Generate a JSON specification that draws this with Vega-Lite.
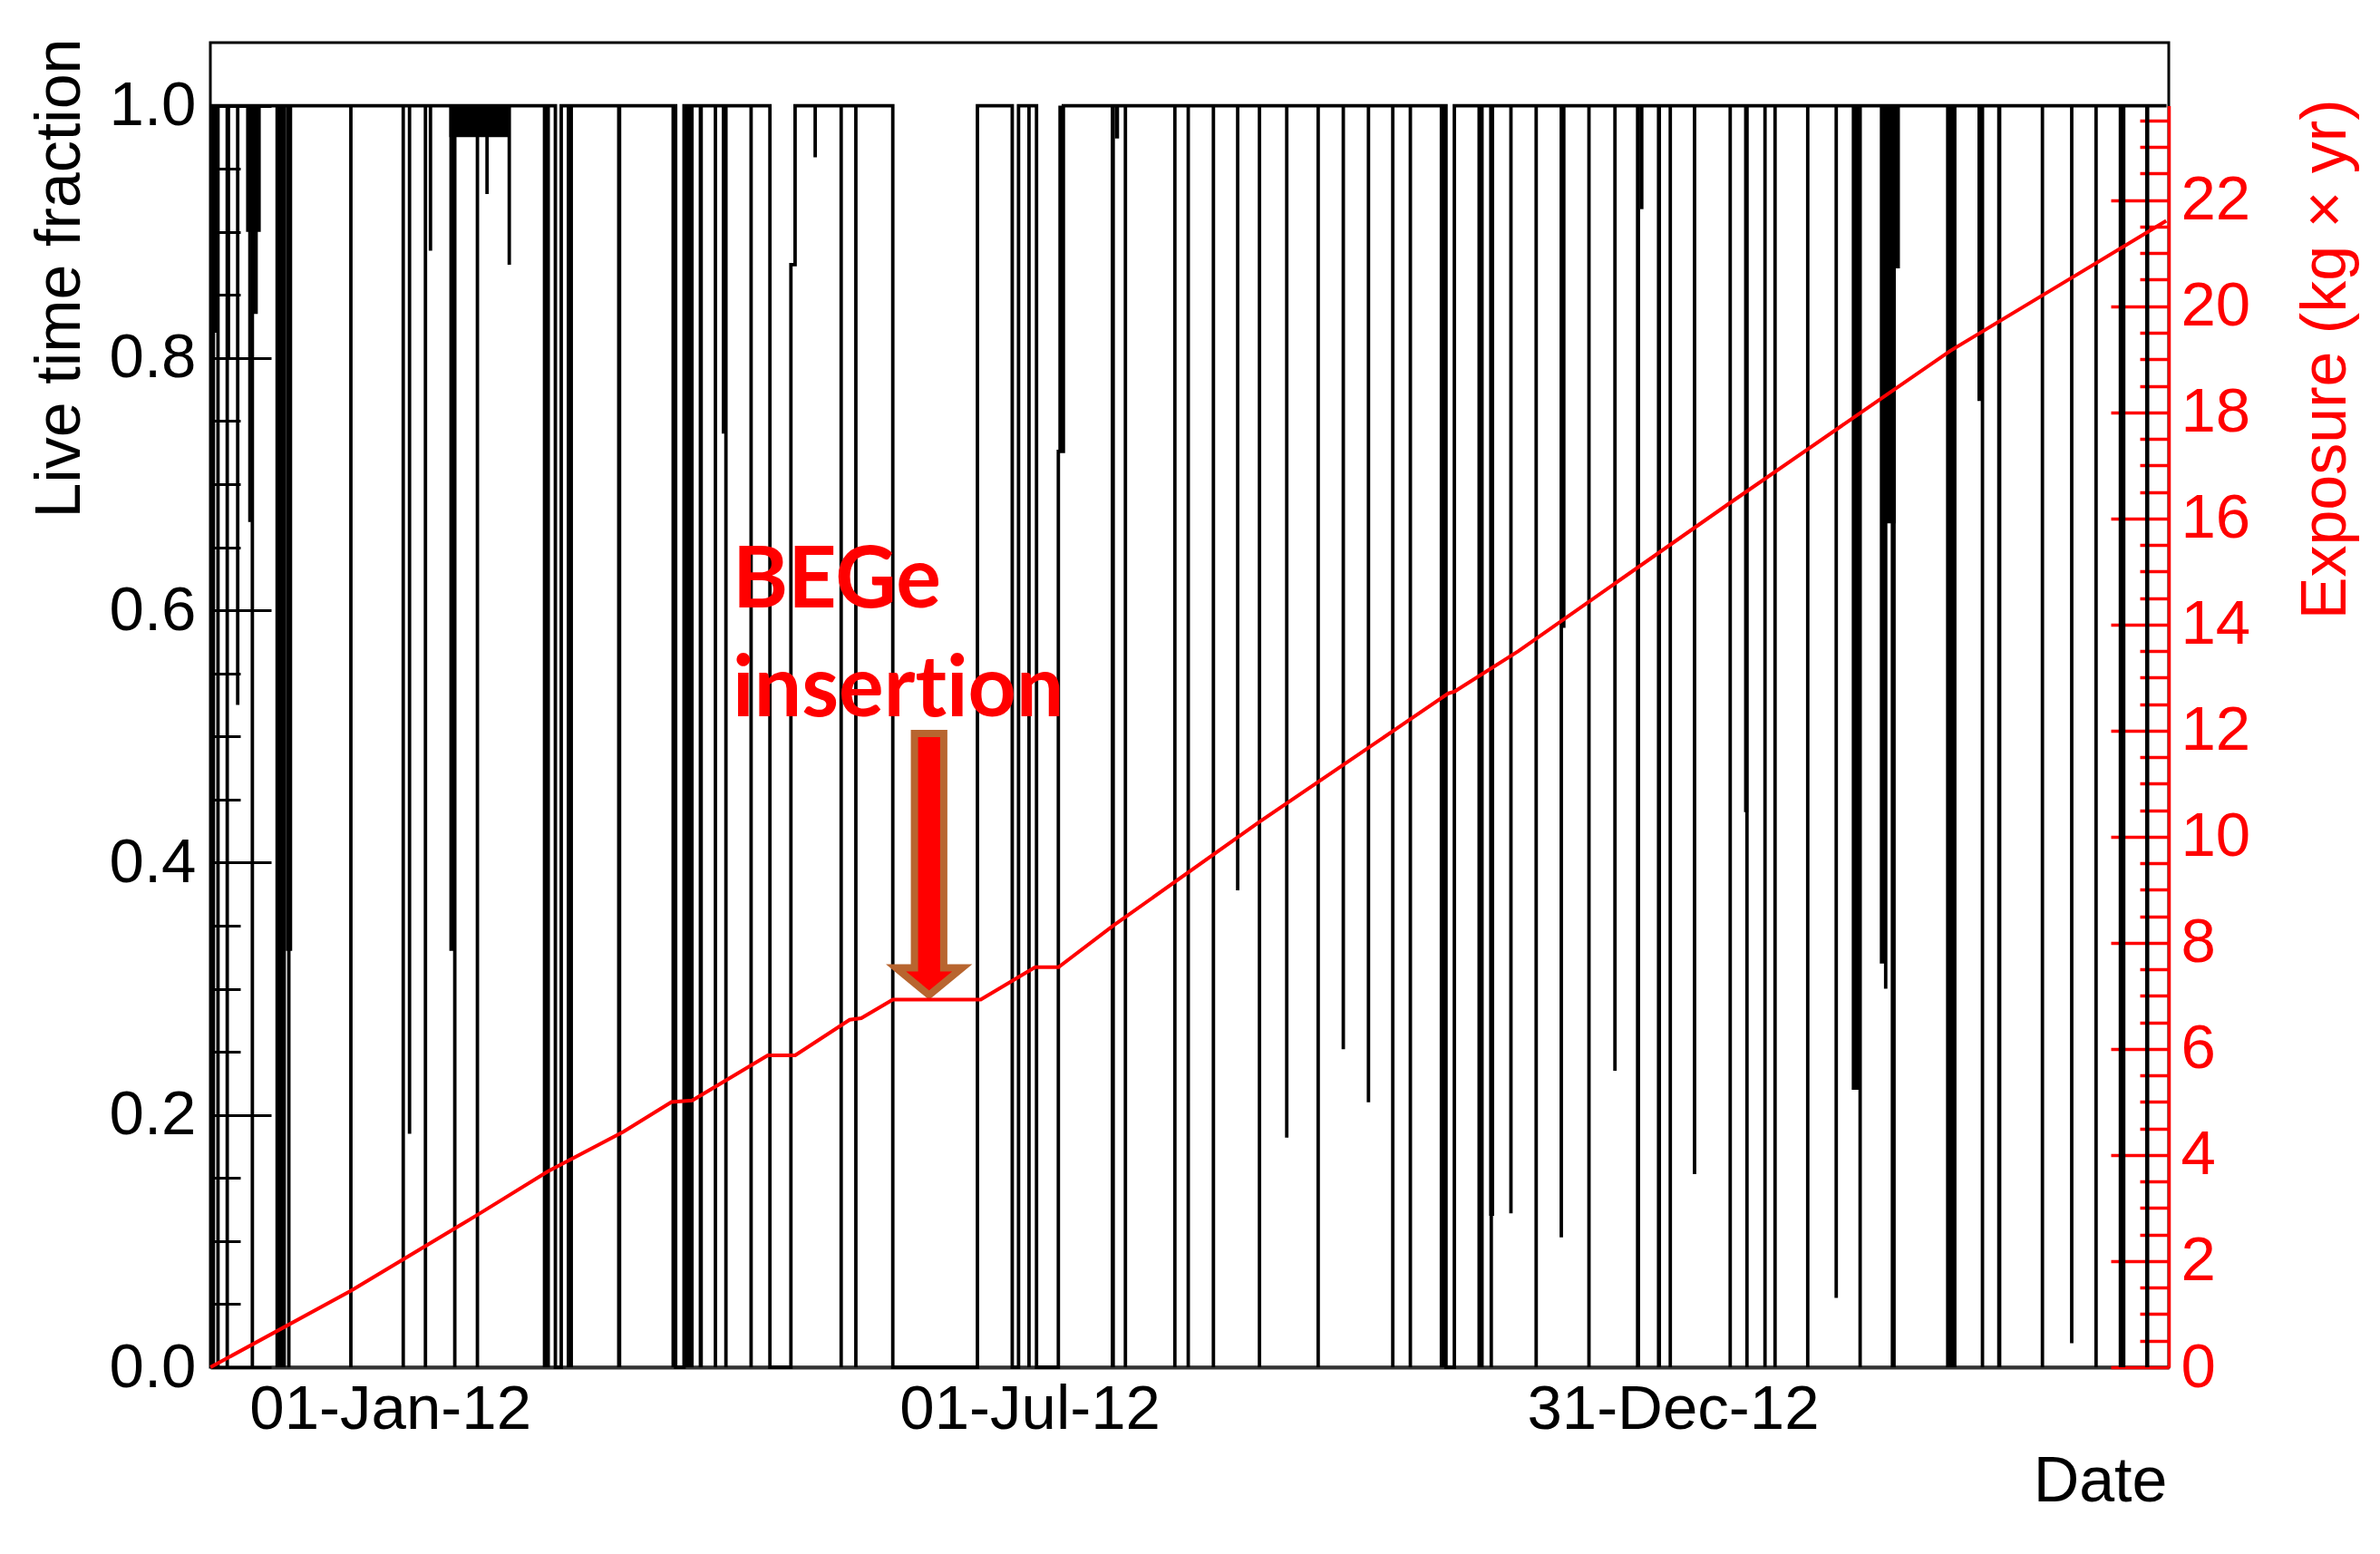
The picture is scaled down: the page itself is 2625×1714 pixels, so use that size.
{
  "$schema": "https://vega.github.io/schema/vega-lite/v6.json",
  "width": 2160,
  "height": 1461,
  "autosize": {"type": "none"},
  "padding": {"left": 232, "top": 47, "right": 233, "bottom": 206},
  "background": "white",
  "config": {
    "font": "Liberation Sans",
    "view": {"stroke": "#000", "strokeWidth": 3},
    "axis": {
      "grid": false,
      "labelFont": "Liberation Sans",
      "titleFont": "Liberation Sans",
      "labelFontSize": 69,
      "titleFontSize": 70,
      "titleFontWeight": "normal",
      "labelColor": "#000",
      "titleColor": "#000",
      "tickColor": "#000",
      "labelFlush": false,
      "labelOverlap": false,
      "labelLimit": 0
    }
  },
  "datasets": {
    "step": [
      {"t": "2011-11-10T22:00", "v": 1},
      {"t": "2011-11-11T03:36", "v": 0}, {"t": "2011-11-11T03:36", "v": 1},
      {"t": "2011-11-11T17:45", "v": 0}, {"t": "2011-11-11T17:45", "v": 1},
      {"t": "2011-11-13T01:10", "v": 0}, {"t": "2011-11-13T01:10", "v": 1},
      {"t": "2011-11-15T16:20", "v": 0}, {"t": "2011-11-15T16:20", "v": 1},
      {"t": "2011-11-18T15:50", "v": 0.525}, {"t": "2011-11-18T15:50", "v": 1},
      {"t": "2011-11-22T19:55", "v": 0}, {"t": "2011-11-22T19:55", "v": 1},
      {"t": "2011-12-03T05:02", "v": 0}, {"t": "2011-12-03T05:02", "v": 1},
      {"t": "2011-12-20T20:38", "v": 0}, {"t": "2011-12-20T20:38", "v": 1},
      {"t": "2012-01-04T18:14", "v": 0}, {"t": "2012-01-04T18:14", "v": 1},
      {"t": "2012-01-06T13:12", "v": 0.185}, {"t": "2012-01-06T13:12", "v": 1},
      {"t": "2012-01-11T01:55", "v": 0}, {"t": "2012-01-11T01:55", "v": 1},
      {"t": "2012-01-12T12:14", "v": 0.885}, {"t": "2012-01-12T12:14", "v": 1},
      {"t": "2012-01-19T10:19", "v": 0}, {"t": "2012-01-19T10:19", "v": 1},
      {"t": "2012-01-25T20:53", "v": 0}, {"t": "2012-01-25T20:53", "v": 1},
      {"t": "2012-01-28T14:38", "v": 0.93}, {"t": "2012-01-28T14:38", "v": 1},
      {"t": "2012-02-03T22:19", "v": 0.874}, {"t": "2012-02-03T22:19", "v": 1},
      {"t": "2012-02-17T01:12", "v": 0}, {"t": "2012-02-18T17:17", "v": 1},
      {"t": "2012-03-22T06:29", "v": 0}, {"t": "2012-03-24T15:50", "v": 1},
      {"t": "2012-04-02T14:24", "v": 0}, {"t": "2012-04-02T14:24", "v": 1},
      {"t": "2012-04-05T13:55", "v": 0}, {"t": "2012-04-05T13:55", "v": 1},
      {"t": "2012-04-12T17:46", "v": 0}, {"t": "2012-04-12T17:46", "v": 1},
      {"t": "2012-04-18T02:24", "v": 0}, {"t": "2012-04-24T01:41", "v": 0.874}, {"t": "2012-04-25T06:14", "v": 1},
      {"t": "2012-04-30T23:31", "v": 0.959}, {"t": "2012-04-30T23:31", "v": 1},
      {"t": "2012-05-08T08:53", "v": 0}, {"t": "2012-05-08T08:53", "v": 1},
      {"t": "2012-05-12T13:12", "v": 0}, {"t": "2012-05-12T13:12", "v": 1},
      {"t": "2012-05-23T01:26", "v": 0}, {"t": "2012-06-16T03:36", "v": 1},
      {"t": "2012-06-26T01:12", "v": 0}, {"t": "2012-06-27T20:10", "v": 1},
      {"t": "2012-06-30T19:41", "v": 0}, {"t": "2012-06-30T19:41", "v": 1},
      {"t": "2012-07-02T23:02", "v": 0}, {"t": "2012-07-09T04:05", "v": 0.726}, {"t": "2012-07-10T14:24", "v": 1},
      {"t": "2012-07-28T06:00", "v": 0}, {"t": "2012-07-28T06:00", "v": 1},
      {"t": "2012-08-11T07:41", "v": 0}, {"t": "2012-08-11T07:41", "v": 1},
      {"t": "2012-08-15T03:07", "v": 0}, {"t": "2012-08-15T03:07", "v": 1},
      {"t": "2012-08-22T06:58", "v": 0}, {"t": "2012-08-22T06:58", "v": 1},
      {"t": "2012-08-29T04:48", "v": 0.378}, {"t": "2012-08-29T04:48", "v": 1},
      {"t": "2012-09-04T09:36", "v": 0}, {"t": "2012-09-04T09:36", "v": 1},
      {"t": "2012-09-12T03:50", "v": 0.182}, {"t": "2012-09-12T03:50", "v": 1},
      {"t": "2012-09-21T02:24", "v": 0}, {"t": "2012-09-21T02:24", "v": 1},
      {"t": "2012-09-28T06:00", "v": 0.252}, {"t": "2012-09-28T06:00", "v": 1},
      {"t": "2012-10-05T09:50", "v": 0.21}, {"t": "2012-10-05T09:50", "v": 1},
      {"t": "2012-10-12T07:55", "v": 0}, {"t": "2012-10-12T07:55", "v": 1},
      {"t": "2012-10-17T07:55", "v": 0}, {"t": "2012-10-17T07:55", "v": 1},
      {"t": "2012-10-27T11:17", "v": 0}, {"t": "2012-10-29T20:24", "v": 1},
      {"t": "2012-11-09T08:24", "v": 0}, {"t": "2012-11-09T08:24", "v": 1},
      {"t": "2012-11-14T22:48", "v": 0.122}, {"t": "2012-11-14T22:48", "v": 1},
      {"t": "2012-11-22T03:07", "v": 0}, {"t": "2012-11-22T03:07", "v": 1},
      {"t": "2012-11-29T06:43", "v": 0.103}, {"t": "2012-11-29T06:43", "v": 1},
      {"t": "2012-12-07T03:36", "v": 0}, {"t": "2012-12-07T03:36", "v": 1},
      {"t": "2012-12-14T13:12", "v": 0.235}, {"t": "2012-12-14T13:12", "v": 1},
      {"t": "2012-12-30T06:58", "v": 0}, {"t": "2012-12-30T06:58", "v": 1},
      {"t": "2013-01-06T04:48", "v": 0.153}, {"t": "2013-01-06T04:48", "v": 1},
      {"t": "2013-01-16T08:10", "v": 0}, {"t": "2013-01-16T08:10", "v": 1},
      {"t": "2013-01-21T02:38", "v": 0}, {"t": "2013-01-21T02:38", "v": 1},
      {"t": "2013-01-26T05:46", "v": 0}, {"t": "2013-01-26T05:46", "v": 1},
      {"t": "2013-01-29T02:24", "v": 0}, {"t": "2013-01-29T02:24", "v": 1},
      {"t": "2013-02-07T09:36", "v": 0}, {"t": "2013-02-07T09:36", "v": 1},
      {"t": "2013-02-15T12:14", "v": 0.055}, {"t": "2013-02-15T12:14", "v": 1},
      {"t": "2013-02-22T07:26", "v": 0}, {"t": "2013-02-22T07:26", "v": 1},
      {"t": "2013-03-01T13:55", "v": 0.30}, {"t": "2013-03-01T13:55", "v": 1},
      {"t": "2013-03-29T02:53", "v": 0}, {"t": "2013-03-29T02:53", "v": 1},
      {"t": "2013-04-15T04:19", "v": 0}, {"t": "2013-04-15T04:19", "v": 1},
      {"t": "2013-04-23T12:29", "v": 0.019}, {"t": "2013-04-23T12:29", "v": 1},
      {"t": "2013-04-30T10:34", "v": 0}, {"t": "2013-04-30T10:34", "v": 1},
      {"t": "2013-05-20T12:00", "v": 1}
    ],
    "dense": [
      {"t": "2011-11-10T22:00", "t2": "2011-11-12T22:30", "lo": 0.82},
      {"t": "2011-11-15T07:40", "t2": "2011-11-16T12:14", "lo": 0.80},
      {"t": "2011-11-21T01:00", "t2": "2011-11-25T05:17", "lo": 0.90},
      {"t": "2011-11-23T04:34", "t2": "2011-11-24T09:07", "lo": 0.835},
      {"t": "2011-11-21T15:22", "t2": "2011-11-22T11:31", "lo": 0.67},
      {"t": "2011-11-29T09:22", "t2": "2011-12-02T08:53", "lo": 0},
      {"t": "2011-12-02T08:53", "t2": "2011-12-04T03:50", "lo": 0.33},
      {"t": "2012-01-17T21:07", "t2": "2012-02-04T04:05", "lo": 0.975},
      {"t": "2012-01-17T21:07", "t2": "2012-01-19T10:19", "lo": 0.33},
      {"t": "2012-02-13T11:17", "t2": "2012-02-15T12:00", "lo": 0},
      {"t": "2012-02-20T06:29", "t2": "2012-02-22T01:26", "lo": 0},
      {"t": "2012-03-05T14:24", "t2": "2012-03-06T19:12", "lo": 0},
      {"t": "2012-03-21T01:55", "t2": "2012-03-22T06:29", "lo": 0},
      {"t": "2012-03-24T15:50", "t2": "2012-03-27T09:36", "lo": 0},
      {"t": "2012-03-28T19:55", "t2": "2012-03-30T00:29", "lo": 0},
      {"t": "2012-04-04T09:22", "t2": "2012-04-05T13:55", "lo": 0.74},
      {"t": "2012-07-09T04:05", "t2": "2012-07-10T14:24", "lo": 0.726},
      {"t": "2012-07-24T01:41", "t2": "2012-07-25T06:14", "lo": 0},
      {"t": "2012-07-25T06:14", "t2": "2012-07-26T10:48", "lo": 0.974},
      {"t": "2012-10-25T16:19", "t2": "2012-10-27T11:17", "lo": 0},
      {"t": "2012-11-05T09:50", "t2": "2012-11-07T04:48", "lo": 0},
      {"t": "2012-11-08T18:00", "t2": "2012-11-10T04:19", "lo": 0.12},
      {"t": "2012-11-29T00:58", "t2": "2012-11-30T11:31", "lo": 0.586},
      {"t": "2012-12-20T12:14", "t2": "2012-12-21T16:48", "lo": 0},
      {"t": "2012-12-21T16:48", "t2": "2012-12-22T15:50", "lo": 0.918},
      {"t": "2012-12-26T11:17", "t2": "2012-12-27T15:50", "lo": 0},
      {"t": "2013-01-20T06:43", "t2": "2013-01-21T11:17", "lo": 0.44},
      {"t": "2013-02-19T22:05", "t2": "2013-02-22T07:26", "lo": 0.22},
      {"t": "2013-02-28T06:29", "t2": "2013-03-05T15:07", "lo": 0.871},
      {"t": "2013-02-28T06:29", "t2": "2013-03-04T10:34", "lo": 0.669},
      {"t": "2013-02-27T21:50", "t2": "2013-03-01T11:02", "lo": 0.32},
      {"t": "2013-03-03T00:14", "t2": "2013-03-04T10:34", "lo": 0},
      {"t": "2013-03-18T18:00", "t2": "2013-03-21T17:31", "lo": 0},
      {"t": "2013-03-27T16:34", "t2": "2013-03-28T21:22", "lo": 0.766},
      {"t": "2013-04-02T07:12", "t2": "2013-04-03T11:46", "lo": 0},
      {"t": "2013-05-06T21:07", "t2": "2013-05-08T18:58", "lo": 0},
      {"t": "2013-05-14T09:36", "t2": "2013-05-15T14:10", "lo": 0}
    ],
    "exposure": [
      {"t": "2011-11-10T22:00", "e": 0},
      {"t": "2011-12-20T20:00", "e": 1.44},
      {"t": "2012-01-25T14:00", "e": 2.86},
      {"t": "2012-02-14T22:00", "e": 3.69},
      {"t": "2012-03-07T10:00", "e": 4.44},
      {"t": "2012-03-21T02:00", "e": 5.00},
      {"t": "2012-03-27T00:00", "e": 5.03},
      {"t": "2012-04-17T12:00", "e": 5.88},
      {"t": "2012-04-25T07:00", "e": 5.88},
      {"t": "2012-05-10T19:00", "e": 6.55},
      {"t": "2012-05-14T02:00", "e": 6.58},
      {"t": "2012-05-23T02:00", "e": 6.93},
      {"t": "2012-06-17T02:00", "e": 6.93},
      {"t": "2012-07-02T14:00", "e": 7.54},
      {"t": "2012-07-09T05:00", "e": 7.54},
      {"t": "2012-07-24T17:00", "e": 8.32},
      {"t": "2012-09-04T10:00", "e": 10.28},
      {"t": "2012-10-15T00:00", "e": 12.11},
      {"t": "2012-10-28T02:00", "e": 12.70},
      {"t": "2012-10-30T00:00", "e": 12.74},
      {"t": "2012-11-17T02:00", "e": 13.50},
      {"t": "2013-01-15T19:00", "e": 16.27},
      {"t": "2013-03-20T00:00", "e": 19.16},
      {"t": "2013-05-20T10:00", "e": 21.61}
    ],
    "notes": [
      {"t": "2012-04-07T12:00", "v": 0.602, "label": "BEGe"},
      {"t": "2012-04-07T12:00", "v": 0.516, "label": "insert\u200cion"}
    ],
    "arrow": [
      {"t": "2012-06-02T09:22", "v": 0.3987}
    ]
  },
  "encoding": {
    "x": {"field": "t", "type": "temporal",
      "scale": {"domain": [{"year": 2011, "month": 11, "date": 10, "hours": 21}, {"year": 2013, "month": 5, "date": 21, "hours": 3}]},
      "axis": {"values": [{"year": 2012, "month": 1, "date": 1}, {"year": 2012, "month": 7, "date": 1}, {"year": 2012, "month": 12, "date": 31}], "format": "%d-%b-%y", "ticks": false, "domain": true, "domainColor": "#333", "domainWidth": 4, "labelPadding": 12, "labelBaseline": "top", "labelAlign": "center", "labelLimit": 0, "title": "Date", "titleAlign": "right", "titleBaseline": "alphabetic", "titleAnchor": "end", "titleX": 2158, "titleY": 147}}
  },
  "layer": [
    {
      "layer": [
        {
          "data": {"name": "dense"},
          "mark": {"type": "rect", "color": "#000"},
          "encoding": {
            "x2": {"field": "t2"},
            "y": {"field": "lo", "type": "quantitative", "scale": {"domain": [0, 1.05], "nice": false, "zero": false},
              "axis": {"orient": "left", "values": [0.05, 0.1, 0.15, 0.25, 0.3, 0.35, 0.45, 0.5, 0.55, 0.65, 0.7, 0.75, 0.85, 0.9, 0.95], "labels": false, "domain": false, "tickSize": -33, "tickWidth": 3, "title": null}},
            "y2": {"datum": 1}
          }
        },
        {
          "data": {"name": "step"},
          "mark": {"type": "line", "interpolate": "step-after", "color": "#000", "strokeWidth": 3.8},
          "encoding": {
            "y": {"field": "v", "type": "quantitative", "scale": {"domain": [0, 1.05], "nice": false, "zero": false},
              "axis": {"orient": "left", "values": [0, 0.2, 0.4, 0.6, 0.8, 1], "format": ".1f", "domain": false, "tickSize": -67, "tickWidth": 3, "labelPadding": 83, "labelAlign": "right", "labelBaseline": "middle", "title": "Live time fraction", "titleAngle": 270, "titleAlign": "right", "titleBaseline": "alphabetic", "titleX": -145, "titleY": -5}},
            "order": {"value": null}
          }
        },
        {
          "data": {"name": "notes"},
          "mark": {"type": "text", "font": "Lato", "fontWeight": "bold", "fontSize": 93, "color": "#ff0000", "align": "left", "baseline": "alphabetic"},
          "encoding": {
            "y": {"field": "v", "type": "quantitative", "scale": {"domain": [0, 1.05], "nice": false, "zero": false}, "axis": null},
            "text": {"field": "label"}
          }
        },
        {
          "data": {"name": "arrow"},
          "mark": {"type": "point", "shape": "M-0.112,-1L0.112,-1L0.112,0.792L0.253,0.792L0,1L-0.253,0.792L-0.112,0.792Z", "size": 83232, "filled": true, "fill": "#ff0000", "stroke": "#b8652f", "strokeWidth": 8, "strokeJoin": "miter", "opacity": 1},
          "encoding": {
            "y": {"field": "v", "type": "quantitative", "scale": {"domain": [0, 1.05], "nice": false, "zero": false}, "axis": null}
          }
        }
      ],
      "resolve": {"axis": {"y": "independent"}}
    },
    {
      "data": {"name": "exposure"},
      "layer": [
        {
          "mark": {"type": "line", "color": "#ff0000", "strokeWidth": 4},
          "encoding": {
            "y": {"field": "e", "type": "quantitative", "scale": {"domain": [0, 23.78], "range": [1461, 69.57], "nice": false, "zero": false},
              "axis": {"orient": "right", "values": [0, 2, 4, 6, 8, 10, 12, 14, 16, 18, 20, 22], "format": "d", "domain": true, "domainColor": "#ff0000", "domainWidth": 3.5, "tickColor": "#ff0000", "tickSize": -64, "tickWidth": 3.5, "labelColor": "#ff0000", "labelPadding": 77, "labelAlign": "left", "labelBaseline": "middle", "title": "Exposure (kg × yr)", "titleColor": "#ff0000", "titleAngle": 270, "titleAlign": "right", "titleBaseline": "alphabetic", "titleX": 194, "titleY": 62}}
          }
        },
        {
          "mark": {"type": "line", "strokeOpacity": 0},
          "encoding": {
            "y": {"field": "e", "type": "quantitative", "scale": {"domain": [0, 23.78], "range": [1461, 69.57], "nice": false, "zero": false},
              "axis": {"orient": "right", "values": [0.5, 1, 1.5, 2.5, 3, 3.5, 4.5, 5, 5.5, 6.5, 7, 7.5, 8.5, 9, 9.5, 10.5, 11, 11.5, 12.5, 13, 13.5, 14.5, 15, 15.5, 16.5, 17, 17.5, 18.5, 19, 19.5, 20.5, 21, 21.5, 22.5, 23, 23.5], "labels": false, "domain": false, "tickColor": "#ff0000", "tickSize": -32, "tickWidth": 3.5, "title": null}}
          }
        }
      ],
      "resolve": {"axis": {"y": "independent"}}
    }
  ],
  "resolve": {"scale": {"y": "independent"}}
}
